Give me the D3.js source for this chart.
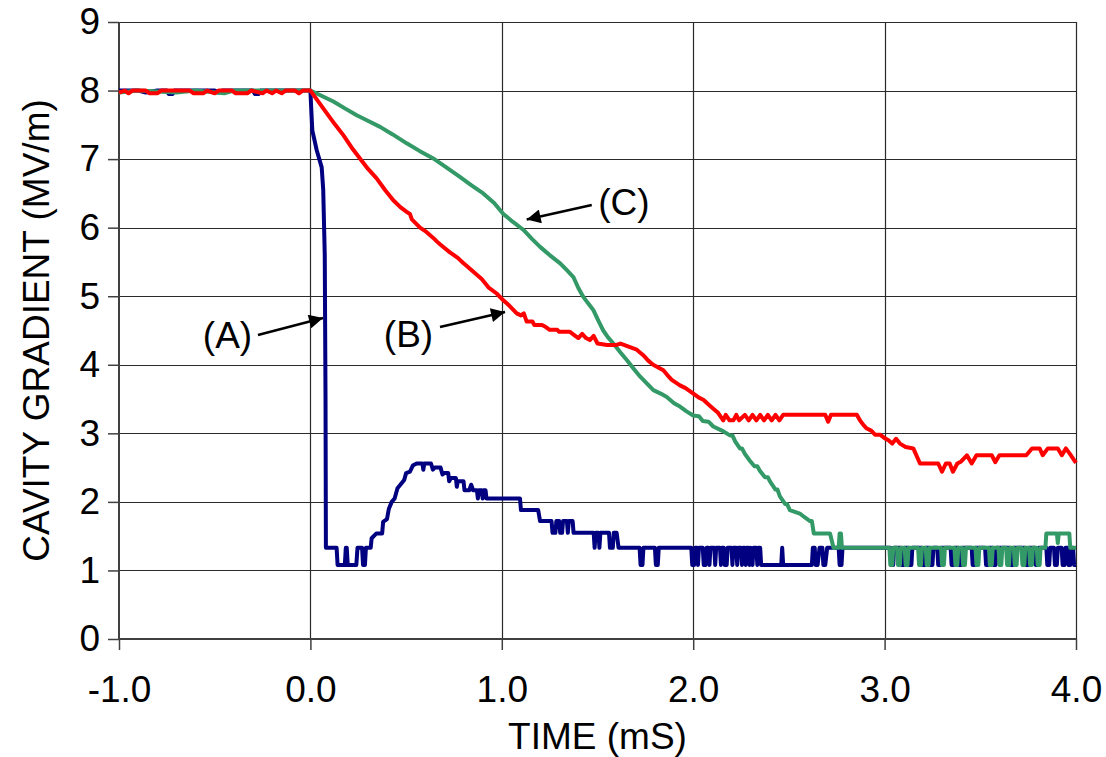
<!DOCTYPE html>
<html>
<head>
<meta charset="utf-8">
<script src="https://cdn.jsdelivr.net/npm/d3@7"></script>
<style>
  html, body { margin: 0; padding: 0; background: #fff; }
  svg { display: block; }
  text { font-family: "Liberation Sans", Arial, sans-serif; fill: #000; }
</style>
</head>
<body>
<svg id="chart" width="1106" height="757"></svg>
<script>
// Axis ticks
const xTicks = [-1, 0, 1, 2, 3, 4];
const yTicks = [0, 1, 2, 3, 4, 5, 6, 7, 8, 9];

// Trace (A): fast decay, [time in ms, gradient in MV/m]
const traceA = [
  [-1.0, 8.0], [-0.9, 8.0], [-0.86, 7.97], [-0.8, 8.0], [-0.75, 8.0], [-0.74, 7.95], [-0.72, 7.95], [-0.71, 8.0],
  [-0.5, 8.0], [-0.48, 7.97], [-0.46, 8.0], [-0.3, 8.0], [-0.29, 7.95], [-0.27, 7.95], [-0.26, 8.0], [0.0, 8.0],
  [0.005, 7.7], [0.01, 7.42], [0.033, 7.13], [0.059, 6.88], [0.067, 6.55], [0.075, 5.6], [0.079, 3.5], [0.081, 1.33],
  [0.137, 1.33], [0.142, 1.08], [0.18, 1.08], [0.185, 1.33], [0.19, 1.33], [0.195, 1.08], [0.24, 1.08], [0.246, 1.33],
  [0.27, 1.33], [0.275, 1.08], [0.285, 1.08], [0.29, 1.33], [0.315, 1.33], [0.32, 1.47], [0.345, 1.54], [0.375, 1.54],
  [0.38, 1.71], [0.40, 1.75], [0.41, 1.90], [0.425, 2.0], [0.44, 2.05], [0.455, 2.2], [0.47, 2.25], [0.49, 2.32],
  [0.50, 2.42], [0.52, 2.44], [0.535, 2.53], [0.555, 2.56], [0.585, 2.56], [0.59, 2.47], [0.595, 2.56], [0.63, 2.56],
  [0.64, 2.47], [0.65, 2.5], [0.68, 2.5], [0.69, 2.4], [0.70, 2.42], [0.72, 2.42], [0.725, 2.3], [0.735, 2.35],
  [0.76, 2.35], [0.765, 2.22], [0.77, 2.3], [0.80, 2.3], [0.805, 2.17], [0.83, 2.17], [0.84, 2.25], [0.85, 2.17],
  [0.87, 2.17], [0.875, 2.05], [0.88, 2.17], [0.895, 2.17], [0.90, 2.05], [0.905, 2.17], [0.915, 2.17], [0.92, 2.05],
  [1.095, 2.05], [1.10, 1.88], [1.19, 1.88], [1.20, 1.72], [1.26, 1.72], [1.265, 1.55], [1.28, 1.55], [1.285, 1.72],
  [1.30, 1.72], [1.305, 1.55], [1.315, 1.55], [1.32, 1.72], [1.34, 1.72], [1.345, 1.55], [1.35, 1.72], [1.37, 1.72],
  [1.375, 1.55], [1.48, 1.55], [1.485, 1.33], [1.49, 1.55], [1.505, 1.55], [1.51, 1.33], [1.515, 1.55], [1.56, 1.55],
  [1.565, 1.33], [1.58, 1.33], [1.585, 1.55], [1.60, 1.55], [1.61, 1.33], [1.72, 1.33], [1.725, 1.08], [1.735, 1.08],
  [1.74, 1.33], [1.80, 1.33], [1.805, 1.08], [1.815, 1.08], [1.82, 1.33], [1.99, 1.33], [1.995, 1.08], [2.005, 1.08],
  [2.01, 1.33], [2.02, 1.33], [2.025, 1.08], [2.03, 1.33], [2.05, 1.33], [2.055, 1.08], [2.065, 1.08], [2.07, 1.33],
  [2.08, 1.33], [2.085, 1.08], [2.09, 1.33], [2.11, 1.33], [2.115, 1.08], [2.12, 1.33], [2.14, 1.33], [2.145, 1.08],
  [2.15, 1.33], [2.16, 1.33], [2.165, 1.08], [2.175, 1.08], [2.18, 1.33], [2.20, 1.33], [2.205, 1.08], [2.21, 1.33],
  [2.225, 1.33], [2.23, 1.08], [2.235, 1.33], [2.25, 1.33], [2.255, 1.08], [2.26, 1.33], [2.27, 1.33], [2.275, 1.08],
  [2.28, 1.33], [2.29, 1.33], [2.295, 1.08], [2.30, 1.33], [2.31, 1.08], [2.315, 1.33], [2.33, 1.33], [2.335, 1.08],
  [2.34, 1.33], [2.35, 1.33], [2.355, 1.08], [2.46, 1.08], [2.465, 1.33], [2.47, 1.08], [2.62, 1.08], [2.625, 1.33],
  [2.635, 1.33], [2.64, 1.08], [2.65, 1.08], [2.66, 1.33], [2.675, 1.33], [2.68, 1.08], [2.69, 1.08], [2.70, 1.33],
  [2.76, 1.33], [2.765, 1.08], [2.775, 1.08], [2.78, 1.33], [3.03, 1.33], [3.035, 1.08], [3.045, 1.08], [3.05, 1.33],
  [3.085, 1.33], [3.09, 1.08], [3.1, 1.08], [3.105, 1.33], [3.125, 1.33], [3.13, 1.08], [3.14, 1.08], [3.145, 1.33],
  [3.195, 1.33], [3.2, 1.08], [3.21, 1.08], [3.215, 1.33], [3.235, 1.33], [3.24, 1.08], [3.25, 1.08], [3.255, 1.33],
  [3.275, 1.33], [3.28, 1.08], [3.29, 1.08], [3.295, 1.33], [3.345, 1.33], [3.35, 1.08], [3.36, 1.08], [3.365, 1.33],
  [3.385, 1.33], [3.39, 1.08], [3.40, 1.08], [3.405, 1.33], [3.455, 1.33], [3.46, 1.08], [3.47, 1.08], [3.475, 1.33],
  [3.525, 1.33], [3.53, 1.08], [3.54, 1.08], [3.545, 1.33], [3.565, 1.33], [3.57, 1.08], [3.58, 1.08], [3.585, 1.33],
  [3.655, 1.33], [3.66, 1.08], [3.67, 1.08], [3.675, 1.33], [3.735, 1.33], [3.74, 1.08], [3.75, 1.08], [3.755, 1.33],
  [3.785, 1.33], [3.79, 1.08], [3.80, 1.08], [3.805, 1.33], [3.845, 1.33], [3.85, 1.08], [3.86, 1.08], [3.865, 1.33],
  [3.885, 1.33], [3.89, 1.08], [3.9, 1.08], [3.905, 1.33], [3.925, 1.33], [3.93, 1.08], [3.94, 1.08], [3.945, 1.33],
  [3.955, 1.33], [3.96, 1.08], [3.97, 1.08], [3.975, 1.33], [3.985, 1.33], [3.99, 1.08], [4.0, 1.08]
];

// Trace (B): intermediate decay
const traceB = [
  [-1.0, 7.97], [-0.97, 8.0], [-0.95, 7.96], [-0.93, 8.0], [-0.86, 8.0], [-0.84, 7.96], [-0.80, 7.96], [-0.78, 8.0],
  [-0.63, 8.0], [-0.61, 7.96], [-0.56, 7.96], [-0.54, 8.0], [-0.50, 7.96], [-0.48, 8.0], [-0.41, 8.0], [-0.39, 7.96],
  [-0.33, 7.96], [-0.31, 8.0], [-0.25, 7.96], [-0.23, 8.0], [-0.20, 7.96], [-0.18, 8.0], [-0.15, 7.96], [-0.13, 8.0],
  [-0.08, 8.0], [-0.06, 7.96], [-0.04, 8.0], [0.0, 8.0],
  [0.085, 7.67], [0.13, 7.5], [0.172, 7.35], [0.215, 7.17], [0.259, 7.01], [0.30, 6.86], [0.346, 6.72], [0.39, 6.55],
  [0.433, 6.40], [0.47, 6.30], [0.503, 6.23], [0.52, 6.2], [0.53, 6.12], [0.573, 6.0], [0.60, 5.95], [0.642, 5.85],
  [0.66, 5.8], [0.68, 5.75], [0.729, 5.64], [0.77, 5.56], [0.80, 5.48], [0.817, 5.44], [0.85, 5.36], [0.895, 5.25],
  [0.93, 5.13], [0.973, 5.04], [1.008, 4.94], [1.04, 4.86], [1.078, 4.75], [1.10, 4.72], [1.115, 4.75], [1.13, 4.63],
  [1.16, 4.63], [1.17, 4.58], [1.21, 4.58], [1.23, 4.55], [1.25, 4.51], [1.29, 4.51], [1.30, 4.48], [1.356, 4.48],
  [1.38, 4.43], [1.40, 4.39], [1.42, 4.45], [1.44, 4.39], [1.46, 4.36], [1.48, 4.42], [1.50, 4.31], [1.55, 4.29],
  [1.60, 4.29], [1.62, 4.31], [1.705, 4.22], [1.739, 4.14], [1.765, 4.06], [1.791, 4.0], [1.844, 3.92], [1.865, 3.85],
  [1.888, 3.78], [1.931, 3.70], [1.96, 3.66], [2.001, 3.58], [2.03, 3.52], [2.053, 3.49], [2.08, 3.42], [2.105, 3.36],
  [2.13, 3.3], [2.157, 3.19], [2.17, 3.27], [2.19, 3.19], [2.21, 3.19], [2.225, 3.27], [2.24, 3.19], [2.27, 3.27],
  [2.29, 3.19], [2.31, 3.27], [2.33, 3.19], [2.35, 3.27], [2.37, 3.19], [2.39, 3.27], [2.41, 3.19], [2.43, 3.27],
  [2.45, 3.19], [2.47, 3.27], [2.50, 3.27], [2.69, 3.27], [2.705, 3.17], [2.72, 3.27], [2.855, 3.27], [2.871, 3.19],
  [2.89, 3.12], [2.907, 3.07], [2.93, 3.04], [2.95, 2.98], [2.976, 2.98], [3.0, 2.93], [3.02, 2.90], [3.04, 2.85],
  [3.06, 2.92], [3.08, 2.85], [3.11, 2.80], [3.15, 2.78], [3.185, 2.56], [3.28, 2.56], [3.30, 2.44], [3.32, 2.56],
  [3.34, 2.56], [3.357, 2.44], [3.38, 2.56], [3.40, 2.59], [3.43, 2.68], [3.455, 2.56], [3.48, 2.68], [3.56, 2.68],
  [3.578, 2.58], [3.60, 2.68], [3.74, 2.68], [3.77, 2.78], [3.81, 2.78], [3.826, 2.68], [3.853, 2.78], [3.905, 2.78],
  [3.926, 2.68], [3.947, 2.78], [3.968, 2.70], [4.0, 2.57]
];

// Trace (C): slow decay
const traceC = [
  [-1.0, 7.97], [-0.9, 8.0], [-0.7, 7.97], [-0.6, 8.0], [-0.45, 7.96], [-0.4, 8.0], [0.0, 8.0],
  [0.06, 7.92], [0.12, 7.84], [0.18, 7.74], [0.242, 7.64], [0.30, 7.56], [0.364, 7.47], [0.43, 7.36], [0.503, 7.23],
  [0.57, 7.12], [0.642, 7.01], [0.71, 6.88], [0.781, 6.74], [0.84, 6.62], [0.903, 6.50], [0.96, 6.36], [1.008, 6.20],
  [1.06, 6.08], [1.112, 5.97], [1.16, 5.83], [1.2, 5.72], [1.25, 5.60], [1.305, 5.48], [1.34, 5.38], [1.374, 5.28],
  [1.40, 5.12], [1.426, 4.99], [1.45, 4.90], [1.478, 4.80], [1.505, 4.64], [1.530, 4.50], [1.555, 4.40], [1.583, 4.31],
  [1.62, 4.18], [1.653, 4.07], [1.69, 3.94], [1.722, 3.83], [1.76, 3.72], [1.792, 3.63], [1.83, 3.58], [1.862, 3.53],
  [1.90, 3.44], [1.931, 3.39], [1.965, 3.32], [2.0, 3.26], [2.03, 3.25], [2.05, 3.18], [2.08, 3.17], [2.105, 3.10],
  [2.15, 3.04], [2.192, 2.97], [2.205, 2.97], [2.22, 2.88], [2.244, 2.78], [2.255, 2.78], [2.27, 2.70], [2.296, 2.60],
  [2.32, 2.52], [2.335, 2.52], [2.349, 2.45], [2.375, 2.36], [2.39, 2.36], [2.401, 2.30], [2.43, 2.18], [2.44, 2.18],
  [2.453, 2.08], [2.48, 1.97], [2.49, 1.97], [2.505, 1.88], [2.557, 1.83], [2.58, 1.78], [2.61, 1.72], [2.62, 1.72],
  [2.63, 1.54], [2.715, 1.54], [2.733, 1.33], [2.76, 1.33], [2.765, 1.54], [2.772, 1.54], [2.777, 1.33],
  [3.025, 1.33], [3.03, 1.08], [3.04, 1.08], [3.045, 1.33], [3.065, 1.33], [3.07, 1.08], [3.08, 1.08], [3.085, 1.33],
  [3.105, 1.33], [3.11, 1.08], [3.12, 1.08], [3.125, 1.33], [3.175, 1.33], [3.18, 1.08], [3.19, 1.08], [3.195, 1.33],
  [3.215, 1.33], [3.22, 1.08], [3.23, 1.08], [3.235, 1.33], [3.295, 1.33], [3.30, 1.08], [3.31, 1.08], [3.315, 1.33],
  [3.365, 1.33], [3.37, 1.08], [3.38, 1.08], [3.385, 1.33], [3.405, 1.33], [3.41, 1.08], [3.42, 1.08], [3.425, 1.33],
  [3.475, 1.33], [3.48, 1.08], [3.49, 1.08], [3.495, 1.33], [3.545, 1.33], [3.55, 1.08], [3.56, 1.08], [3.565, 1.33],
  [3.595, 1.33], [3.60, 1.08], [3.61, 1.08], [3.615, 1.33], [3.635, 1.33], [3.64, 1.08], [3.65, 1.08], [3.655, 1.33],
  [3.675, 1.33], [3.68, 1.08], [3.69, 1.08], [3.695, 1.33], [3.715, 1.33], [3.72, 1.08], [3.73, 1.08], [3.735, 1.33],
  [3.755, 1.33], [3.76, 1.08], [3.77, 1.08], [3.775, 1.33], [3.795, 1.33], [3.80, 1.08], [3.81, 1.08], [3.815, 1.33],
  [3.84, 1.33], [3.845, 1.54], [3.90, 1.54], [3.905, 1.40], [3.91, 1.54], [3.965, 1.54], [3.97, 1.33], [4.0, 1.33]
];

// Callout labels: text, text anchor point, arrow tail, arrow tip (data units)
const labels = ["(A)", "(B)", "(C)"];
const labelPos = [[-0.433, 4.245], [0.5125, 4.26], [1.638, 6.18]];
const arrowFrom = [[-0.274, 4.434], [0.677, 4.551], [1.47, 6.33]];
const arrowTo = [[0.066, 4.682], [1.017, 4.77], [1.13, 6.12]];

const traceColors = ["#000080", "#339966", "#ff0000"];

const svg = d3.select("#chart");
const W = 1106, H = 757;
const plotL = 119, plotR = 1076, plotT = 22, plotB = 639;

const x = d3.scaleLinear().domain([-1, 4]).range([plotL, plotR]);
const y = d3.scaleLinear().domain([0, 9]).range([plotB, plotT]);

svg.append("rect").attr("width", W).attr("height", H).attr("fill", "#fff");

// Grid
const grid = svg.append("g").attr("stroke", "#2a2a2a").attr("stroke-width", 1.2);
grid.selectAll("line.h").data(yTicks.filter(d => d > 0)).join("line")
  .attr("x1", plotL).attr("x2", plotR)
  .attr("y1", d => Math.round(y(d)) + 0.5).attr("y2", d => Math.round(y(d)) + 0.5);
grid.selectAll("line.v").data(xTicks.filter(d => d > -1)).join("line")
  .attr("y1", plotT).attr("y2", plotB)
  .attr("x1", d => Math.round(x(d)) + 0.5).attr("x2", d => Math.round(x(d)) + 0.5);

// Axes
const fontSize = 37;
const yAxis = svg.append("g").attr("transform", `translate(${plotL},0)`)
  .call(d3.axisLeft(y).tickValues(yTicks).tickSize(11).tickPadding(8).tickFormat(d3.format("d")));
const xAxis = svg.append("g").attr("transform", `translate(0,${plotB})`)
  .call(d3.axisBottom(x).tickValues(xTicks).tickSize(11).tickPadding(26).tickFormat(d => d.toFixed(1)));
[yAxis, xAxis].forEach(g => {
  g.select(".domain").attr("stroke", "#404040").attr("stroke-width", 2);
  g.selectAll(".tick line").attr("stroke", "#404040").attr("stroke-width", 1.5);
  g.selectAll(".tick text").attr("font-size", fontSize)
    .attr("font-family", "'Liberation Sans', Arial, sans-serif").attr("fill", "#000");
});
xAxis.select(".domain").attr("d", `M${plotL},0H${plotR}`);
yAxis.select(".domain").attr("d", `M0,${plotB}V${plotT}`);

// Traces
const line = d3.line().x(d => x(d[0])).y(d => y(d[1]));
[traceA, traceC, traceB].forEach((tr, i) => {
  svg.append("path").datum(tr)
    .attr("fill", "none").attr("stroke", traceColors[i])
    .attr("stroke-width", 4).attr("stroke-linejoin", "round")
    .attr("d", line);
});

// Axis titles
svg.append("text")
  .attr("x", (plotL + plotR) / 2).attr("y", 749)
  .attr("text-anchor", "middle").attr("font-size", fontSize)
  .text("TIME (mS)");
svg.append("text")
  .attr("transform", `translate(49,${(plotT + plotB) / 2}) rotate(-90)`)
  .attr("text-anchor", "middle").attr("font-size", fontSize)
  .text("CAVITY GRADIENT (MV/m)");

// Callouts with arrows
const defs = svg.append("defs");
defs.append("marker").attr("id", "head")
  .attr("viewBox", "0 0 10 10").attr("refX", 10).attr("refY", 5)
  .attr("markerWidth", 19).attr("markerHeight", 14).attr("markerUnits", "userSpaceOnUse")
  .attr("orient", "auto")
  .append("path").attr("d", "M0,0L10,5L0,10Z").attr("fill", "#000");

labels.forEach((t, i) => {
  svg.append("text")
    .attr("x", x(labelPos[i][0])).attr("y", y(labelPos[i][1]))
    .attr("text-anchor", "middle").attr("font-size", fontSize)
    .text(t);
  svg.append("line")
    .attr("x1", x(arrowFrom[i][0])).attr("y1", y(arrowFrom[i][1]))
    .attr("x2", x(arrowTo[i][0])).attr("y2", y(arrowTo[i][1]))
    .attr("stroke", "#000").attr("stroke-width", 2.5)
    .attr("marker-end", "url(#head)");
});
</script>
</body>
</html>
